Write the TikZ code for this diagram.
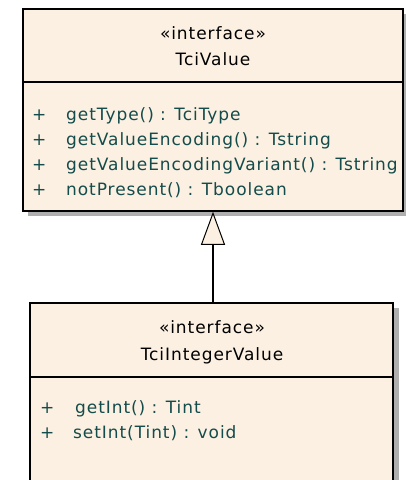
\documentclass[tikz,border=0pt]{standalone}
\usepackage{fontspec}
\setmainfont{DejaVu Sans}[LetterSpace=5.5]
\usetikzlibrary{arrows.meta}
\definecolor{classfill}{RGB}{251,240,225}
\definecolor{opcolor}{RGB}{20,75,75}
\definecolor{shadowgrey}{RGB}{175,175,175}
\begin{document}
\begin{tikzpicture}[x=1pt,y=-1pt,
  classbox/.style={draw=black, line width=1.5pt, fill=classfill, inner sep=0pt},
  classshadow/.style={fill=shadowgrey},
  divider/.style={draw=black, line width=1.2pt},
  title/.style={anchor=base, inner sep=0pt, font=\fontsize{17}{20}\selectfont, text=black},
  op/.style={anchor=base west, inner sep=0pt, font=\fontsize{17}{20}\selectfont, text=opcolor},
  realizes/.style={draw=black, line width=1.2pt,
    -{Triangle[open, fill=classfill, length=33pt, width=24pt, line width=1pt]}}]
\clip (0,0) rectangle (406,480);
\fill[white] (0,0) rectangle (406,480);

% interface TciValue
\fill[classshadow] (28,14) rectangle (409,216);
\node[classbox, minimum width=380pt, minimum height=202pt] (iface) at (213,110) {};
\draw[divider] (iface.west |- 0,82) -- (iface.east |- 0,82);
\node[title] (ifacestereo) at (213,39) {«interface»};
\node[title] (ifacename) at (213,65) {TciValue};
\node[op] (ifacevis1) at (32,120) {+};
\node[op] (ifaceop1) at (66,120) {getType() : TciType};
\node[op] (ifacevis2) at (32,145) {+};
\node[op] (ifaceop2) at (66,145) {getValueEncoding() : Tstring};
\node[op] (ifacevis3) at (32,170) {+};
\node[op] (ifaceop3) at (66,170) {getValueEncodingVariant() : Tstring};
\node[op] (ifacevis4) at (32,195) {+};
\node[op] (ifaceop4) at (66,195) {notPresent() : Tboolean};

% interface TciIntegerValue
\fill[classshadow] (35,308) rectangle (399,520);
\node[classbox, minimum width=363pt, minimum height=200pt] (impl) at (211.5,403) {};
\draw[divider] (impl.west |- 0,377) -- (impl.east |- 0,377);
\node[title] (implstereo) at (212,333) {«interface»};
\node[title] (implname) at (212,360) {TciIntegerValue};
\node[op] (implvis1) at (40,413) {+};
\node[op] (implop1) at (75,413) {getInt() : Tint};
\node[op] (implvis2) at (40,438) {+};
\node[op] (implop2) at (73,438) {setInt(Tint) : void};

% generalization
\draw[realizes] (impl.north -| iface.south) -- (iface.south);
\end{tikzpicture}
\end{document}
